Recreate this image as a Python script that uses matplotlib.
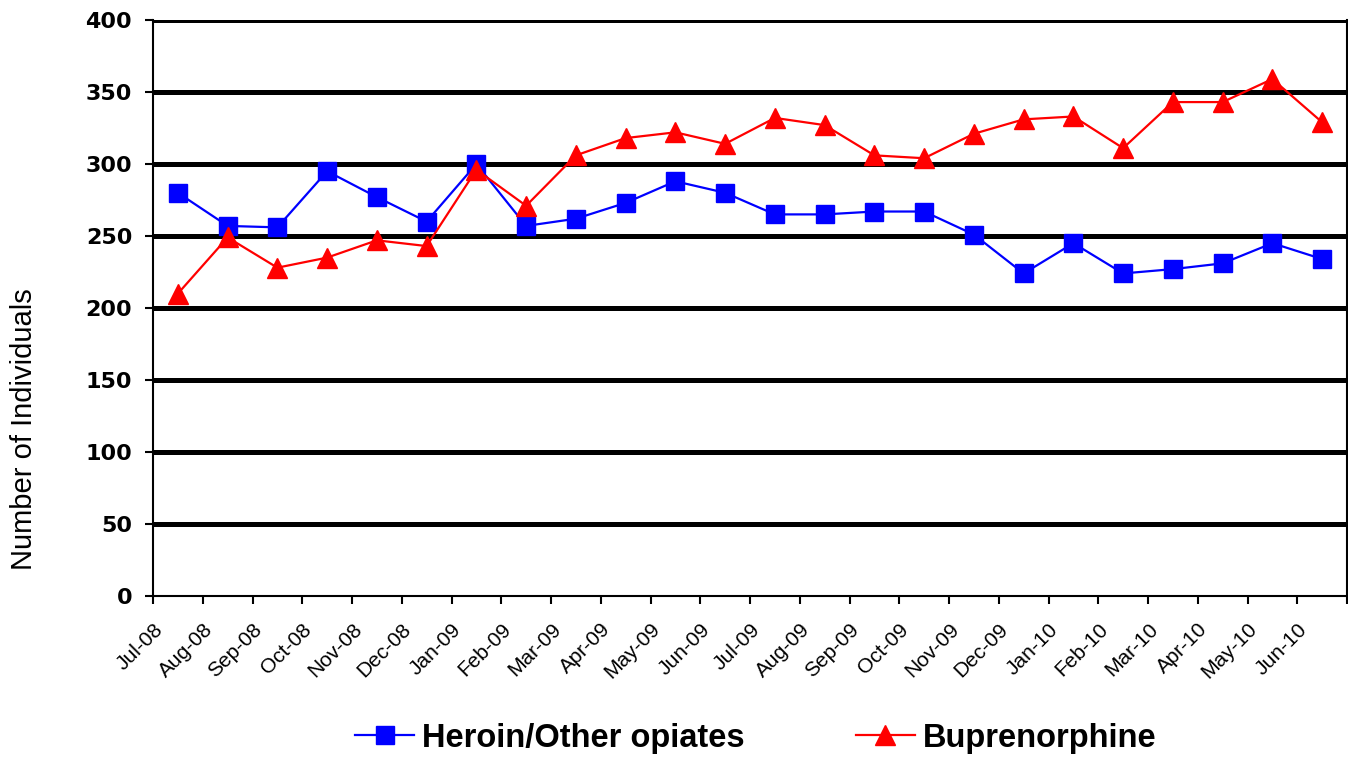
import matplotlib.pyplot as plt
from matplotlib.transforms import ScaledTranslation

months = ['Jul-08', 'Aug-08', 'Sep-08', 'Oct-08', 'Nov-08', 'Dec-08',
          'Jan-09', 'Feb-09', 'Mar-09', 'Apr-09', 'May-09', 'Jun-09',
          'Jul-09', 'Aug-09', 'Sep-09', 'Oct-09', 'Nov-09', 'Dec-09',
          'Jan-10', 'Feb-10', 'Mar-10', 'Apr-10', 'May-10', 'Jun-10']
heroin = [280, 257, 256, 295, 277, 260, 300, 257, 262, 273, 288, 280,
          265, 265, 267, 267, 251, 224, 245, 224, 227, 231, 245, 234]
bupe = [210, 249, 228, 235, 247, 243, 296, 271, 306, 318, 322, 314,
        332, 327, 306, 304, 321, 331, 333, 311, 343, 343, 359, 329]
y_ticks = [0, 50, 100, 150, 200, 250, 300, 350, 400]

fig = plt.figure(figsize=(13.48, 7.57), dpi=100)
ax = fig.add_axes([153 / 1348, 1 - 596 / 757, 1194 / 1348, 576 / 757])

x = list(range(len(months)))
ax.plot(x, heroin, color='#0000ff', lw=1.6, marker='s', ms=13.5,
        mec='#0000ff', mfc='#0000ff', label='Heroin/Other opiates', zorder=3)
ax.plot(x, bupe, color='#ff0000', lw=1.6, marker='^', ms=15,
        mec='#ff0000', mfc='#ff0000', label='Buprenorphine', zorder=3)

ax.set_xlim(-0.5, len(months) - 0.5)
ax.set_ylim(0, 400)
ax.set_yticks(y_ticks)
ax.set_yticklabels([str(v) for v in y_ticks], fontfamily='DejaVu Sans',
                   fontweight='bold', fontsize=16)

# tick marks sit on the category boundaries, labels at the left boundary
ax.set_xticks([i - 0.5 for i in range(len(months) + 1)])
ax.set_xticklabels(months + [''], fontfamily='Liberation Sans', fontsize=15)
offset = ScaledTranslation(14 / 100, 0, fig.dpi_scale_trans)
for lab in ax.get_xticklabels():
    lab.set_rotation(45)
    lab.set_ha('right')
    lab.set_va('top')
    lab.set_rotation_mode('anchor')
    lab.set_transform(lab.get_transform() + offset)

ax.tick_params(axis='x', length=6, width=1.5, pad=11)
ax.tick_params(axis='y', length=6, width=1.5, pad=9)

# thick black gridlines
ax.set_axisbelow(True)
ax.yaxis.grid(True, color='black', lw=3.6)
ax.get_ygridlines()[0].set_visible(False)
ax.spines['top'].set_visible(False)
for s in ['left', 'bottom', 'right']:
    ax.spines[s].set_linewidth(1.5)

fig.text(24 / 1348, 1 - 429 / 757, 'Number of Individuals', rotation=90,
         ha='center', va='center', fontfamily='Liberation Sans', fontsize=21)

fig.legend(loc='center', bbox_to_anchor=(756 / 1348, 1 - 738 / 757), ncol=2,
           frameon=False, handlelength=1.8, handletextpad=0.25, columnspacing=3.4,
           prop={'family': 'Liberation Sans', 'weight': 'bold', 'size': 23.5})

fig.savefig('out.png', dpi=100)
